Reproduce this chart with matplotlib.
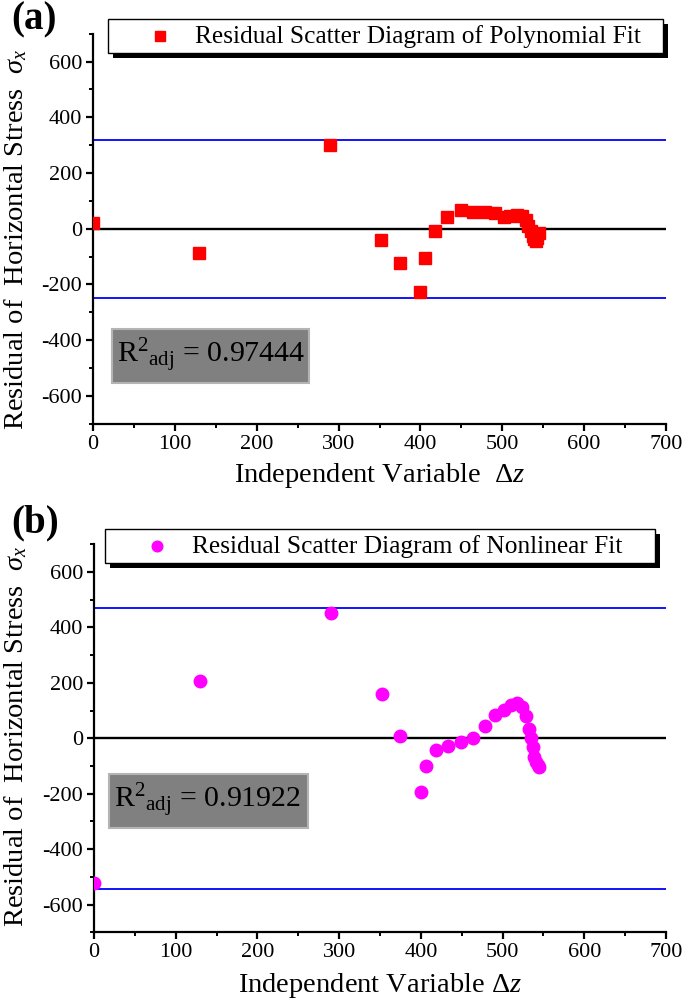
import matplotlib
matplotlib.use('Agg')
import matplotlib.pyplot as plt
from matplotlib.patches import Rectangle
from matplotlib.lines import Line2D
from matplotlib.ticker import MultipleLocator

plt.rcParams['font.family'] = ['Liberation Serif', 'DejaVu Serif']
plt.rcParams['mathtext.fontset'] = 'custom'
plt.rcParams['mathtext.rm'] = 'Liberation Serif'
plt.rcParams['mathtext.it'] = 'Liberation Serif:italic'
plt.rcParams['mathtext.bf'] = 'Liberation Serif:bold'
plt.rcParams['axes.unicode_minus'] = False

# ---------------- data ----------------
dz = [0, 130, 290, 352, 375, 400, 406, 418, 433, 449, 464, 479, 491,
      502, 510, 518, 524, 529, 532, 535, 537, 539, 541, 543, 545]
poly_resid = [22, -88, 300, -40, -124, -226, -106, -10, 41, 66, 61, 61, 56,
              43, 47, 50, 45, 30, 10, -10, -25, -38, -44, -35, -15]
nonlin_resid = [-523, 207, 453, 160, 9, -193, -99, -42, -29, -13, 2, 43, 84,
                102, 120, 126, 112, 80, 34, 0, -32, -66, -84, -96, -103]
poly_bounds = [320, -250]
nonlin_bounds = [470, -545]
poly_r2 = "0.97444"
nonlin_r2 = "0.91922"
x_ticks = list(range(0, 701, 100))
y_ticks = list(range(-600, 601, 200))

W, H = 685, 1006
fig = plt.figure(figsize=(W / 100, H / 100), dpi=100)


def fx(px):
    return px / W


def fy(py):
    return 1 - py / H


def make_panel(left, right, top, bottom, y, bounds, marker, color, ms,
               legend_text, leg_box, r2_text, r2_box, tag, tag_y, ylab_y,
               xlabel, xlab_y):
    ax = fig.add_axes([fx(left), fy(bottom), fx(right) - fx(left), fy(top) - fy(bottom)])
    ax.set_xlim(0, 700)
    ax.set_ylim(-700, 700)
    ax.axhline(0, color='black', lw=1.7, zorder=2)
    for b in bounds:
        ax.axhline(b, color='#0000ff', lw=1.3, zorder=2)
    ax.plot(dz, y, linestyle='none', marker=marker, color=color, ms=ms,
            mec=color, zorder=3, clip_on=True)
    for s in ['top', 'right']:
        ax.spines[s].set_visible(False)
    for s in ['left', 'bottom']:
        ax.spines[s].set_linewidth(1.6)
    ax.set_xticks(x_ticks)
    ax.set_yticks(y_ticks)
    ax.xaxis.set_minor_locator(MultipleLocator(50))
    ax.yaxis.set_minor_locator(MultipleLocator(100))
    ax.tick_params(which='major', length=5, width=1.6, labelsize=16, pad=3)
    ax.tick_params(which='minor', length=3, width=1.4)
    ax.set_facecolor('none')

    fig.text(fx(xlabel[1]), fy(xlab_y), xlabel[0], ha='center', va='center', fontsize=20.5)
    fig.text(fx(16), fy(ylab_y), r'Residual of  Horizontal Stress  $\sigma_x$',
             rotation=90, ha='center', va='center', fontsize=20.5)
    fig.text(fx(11), fy(tag_y), tag, ha='left', va='center', fontsize=28, fontweight='bold')

    # legend box with black shadow
    lx0, ly0, lx1, ly1 = leg_box
    fig.patches.append(Rectangle((fx(lx0 + 5), fy(ly1 + 5)), fx(lx1 - lx0), fy(ly0) - fy(ly1),
                                 transform=fig.transFigure, facecolor='black',
                                 edgecolor='black', lw=0, zorder=5))
    fig.patches.append(Rectangle((fx(lx0), fy(ly1)), fx(lx1 - lx0), fy(ly0) - fy(ly1),
                                 transform=fig.transFigure, facecolor='white',
                                 edgecolor='black', lw=1.0, zorder=6))
    cy = (ly0 + ly1) / 2
    fig.add_artist(Line2D([fx(lx0 + 52)], [fy(cy)], marker=marker, color=color,
                          ms=ms * 0.85, linestyle='none', transform=fig.transFigure, zorder=7))
    fig.text(fx(lx0 + 87), fy(cy + 1), legend_text, ha='left', va='center',
             fontsize=18.3, zorder=8)

    # R^2 box
    rx0, ry0, rx1, ry1 = r2_box
    fig.patches.append(Rectangle((fx(rx0), fy(ry1)), fx(rx1 - rx0), fy(ry0) - fy(ry1),
                                 transform=fig.transFigure, facecolor='#808080',
                                 edgecolor='#b4b4b4', lw=1.5, zorder=5))
    fig.text(fx(rx0 + 5), fy((ry0 + ry1) / 2), r'R$^{2}$$_{\mathrm{adj}}$ = ' + r2_text,
             ha='left', va='center', fontsize=21.5, zorder=8)
    return ax


make_panel(93, 666, 33.7, 423.7, poly_resid, poly_bounds, 's', '#ff0000', 8.5,
           'Residual Scatter Diagram of Polynomial Fit', (108, 19, 663, 53),
           poly_r2, (112, 329, 309, 383), '(a)', 20, 240,
           (r'Independent Variable  $\Delta z$', 380), 476)

make_panel(94, 666, 544.4, 932.2, nonlin_resid, nonlin_bounds, 'o', '#ff00ff', 9,
           'Residual Scatter Diagram of Nonlinear Fit', (105, 529, 655, 563),
           nonlin_r2, (109, 774, 308, 828), '(b)', 523, 737,
           (r'Independent Variable $\Delta z$', 380), 985)

fig.savefig('out.png', dpi=100)
